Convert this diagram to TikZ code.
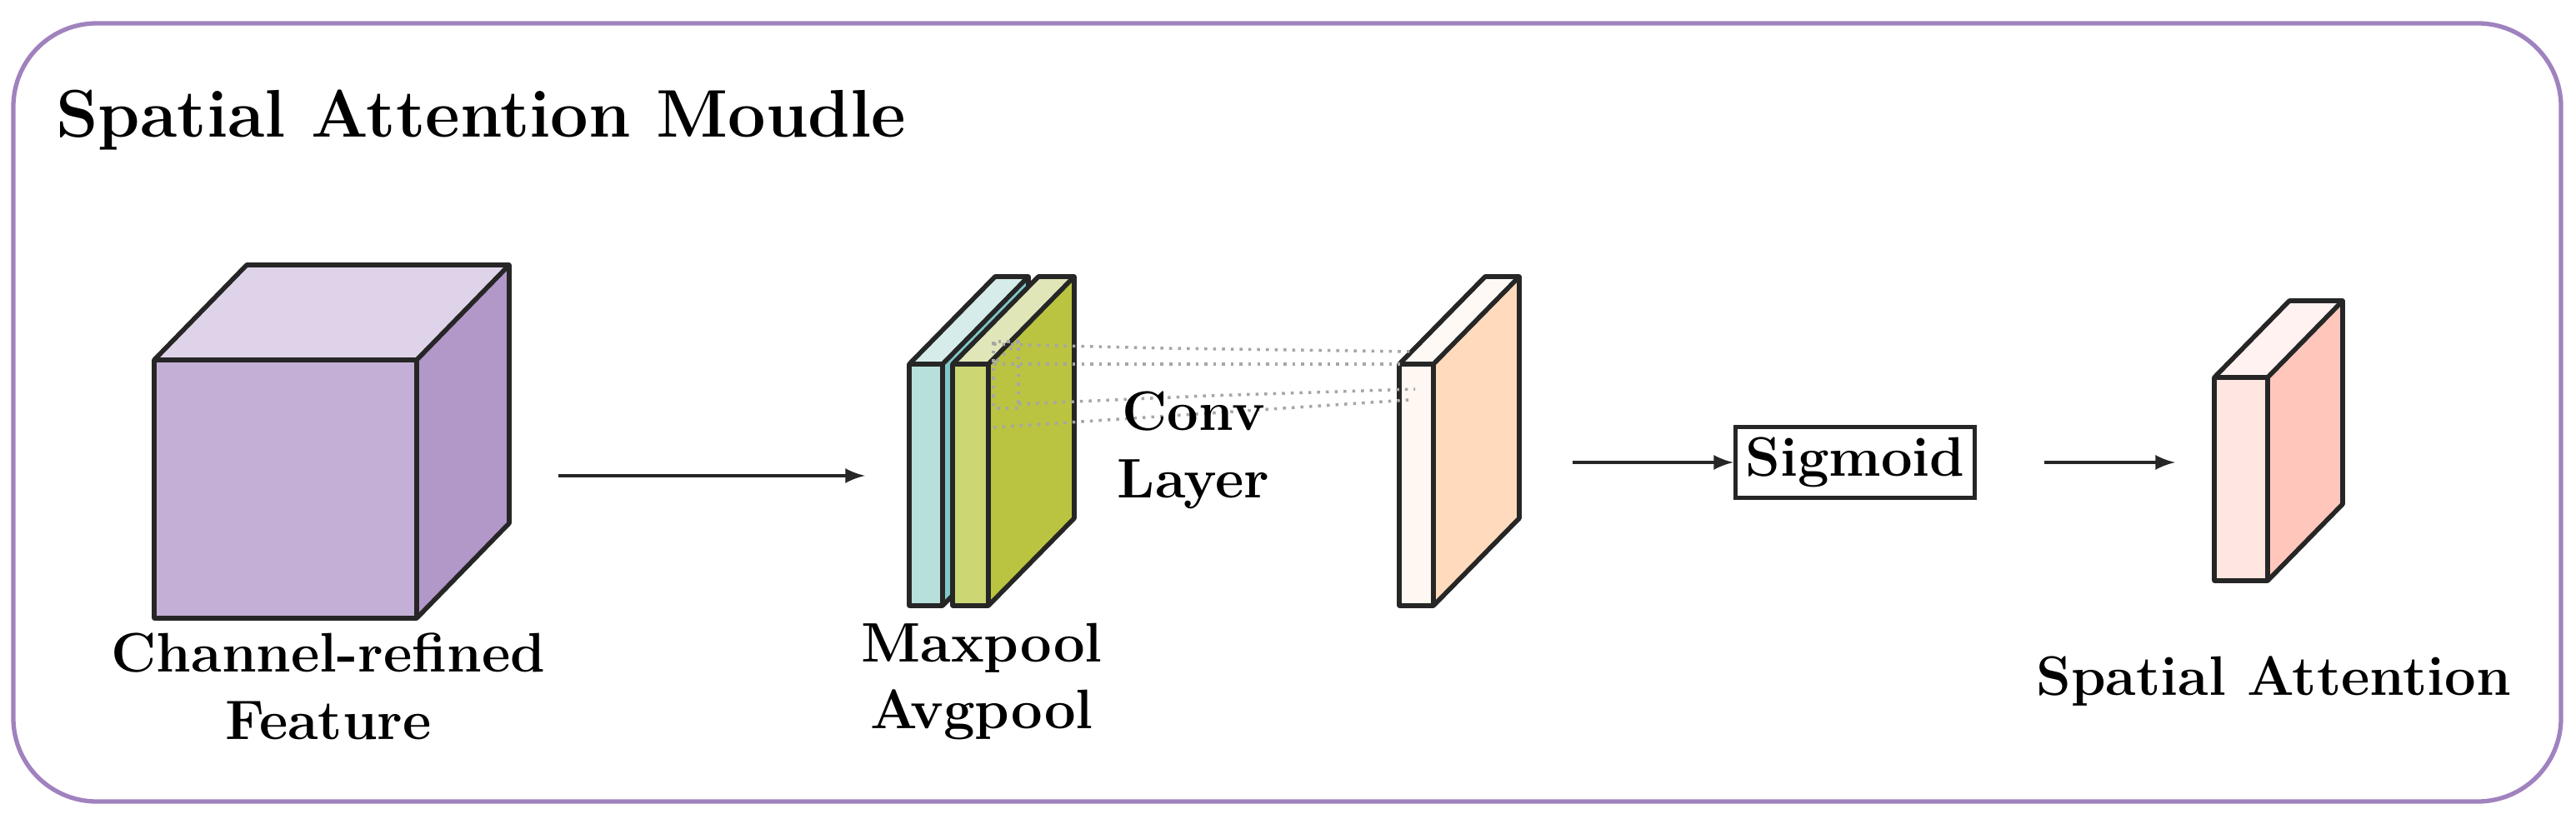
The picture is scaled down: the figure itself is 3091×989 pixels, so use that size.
\documentclass[tikz,border=0pt]{standalone}
\usetikzlibrary{calc}
\definecolor{bordc}{RGB}{160,130,190}
\definecolor{cubF}{RGB}{196,176,214}\definecolor{cubS}{RGB}{178,151,201}\definecolor{cubT}{RGB}{223,211,233}
\definecolor{cyF}{RGB}{183,224,220}\definecolor{cyS}{RGB}{130,200,200}\definecolor{cyT}{RGB}{213,236,234}
\definecolor{grF}{RGB}{204,214,114}\definecolor{grS}{RGB}{186,196,64}\definecolor{grT}{RGB}{224,230,184}
\definecolor{cvF}{RGB}{255,247,242}\definecolor{cvS}{RGB}{255,218,188}\definecolor{cvT}{RGB}{255,249,246}
\definecolor{otF}{RGB}{255,230,225}\definecolor{otS}{RGB}{255,199,188}\definecolor{otT}{RGB}{255,242,240}
\newcommand\myslab[9]{% x1 x2 ytop ybot dx dy front side top
  \fill[fill=#7] (#1,#3) rectangle (#2,#4);
  \fill[fill=#9] (#1,#3) -- ++(#5,#6) -- ($(#2,#3)+(#5,#6)$) -- (#2,#3) -- cycle;
  \fill[fill=#8] (#2,#3) -- ++(#5,#6) -- ($(#2,#4)+(#5,#6)$) -- (#2,#4) -- cycle;
  \draw[face] (#1,#4) -- (#1,#3) -- ++(#5,#6) -- ($(#2,#3)+(#5,#6)$) -- ($(#2,#4)+(#5,#6)$) -- (#2,#4) -- cycle
    (#1,#3) -- (#2,#3) -- (#2,#4) (#2,#3) -- ++(#5,#6);}
\begin{document}
\begin{tikzpicture}[x=0.01cm,y=-0.01cm,
  face/.style={draw=black!85,line width=1.6pt,line join=round},
  lbl/.style={font=\fontsize{19}{23}\selectfont\bfseries,align=center},
  arr/.style={-latex,line width=1.3pt,black!85},
  dl/.style={gray!70,dotted,line width=1pt}]
\useasboundingbox (0,0) rectangle (3091,989);
\draw[draw=bordc,line width=1.5pt,rounded corners=1cm] (16,28) rectangle (3073,962);
\node[anchor=west,font=\fontsize{23}{27}\selectfont\bfseries] (title) at (55,144) {Spatial Attention Moudle};
% cube
\myslab{185}{500}{432}{742}{111}{-114}{cubF}{cubS}{cubT}
% pool slabs
\myslab{1091}{1131}{437}{727}{103}{-105}{cyF}{cyS}{cyT}
\myslab{1143}{1186}{437}{727}{103}{-105}{grF}{grS}{grT}
% conv slab
\myslab{1679}{1720}{437}{727}{103}{-105}{cvF}{cvS}{cvT}
% output slab
\myslab{2657}{2721}{453}{697}{90}{-92}{otF}{otS}{otT}
% receptive field dotted lines
\draw[dl] (1192,410) rectangle (1222,490);
\draw[dl] (1192,413) -- (1400,418) -- (1692,422);
\draw[dl] (1192,437) -- (1680,437);
\draw[dl] (1222,485) -- (1450,475) -- (1698,467);
\draw[dl] (1192,513) -- (1450,496) -- (1690,480);
\draw[dl] (1222,410) -- (1192,437);
% labels
\node[lbl] (l1) at (394,824) {Channel-refined\\Feature};
\node[lbl] (l2) at (1178,818) {Maxpool\\Avgpool};
\node[lbl] (l3) at (1432,540) {Conv\\Layer};
\node[lbl,draw=black!85,line width=1.5pt,minimum width=2.68cm,minimum height=0.85cm] (sig) at (2226,555) {Sigmoid};
\node[lbl] (l5) at (2728,818) {Spatial Attention};
\coordinate (a1s) at (670,571); \coordinate (a1e) at (1038,571);
\coordinate (a2s) at (1887,555); \coordinate (a3s) at (2453,555); \coordinate (out) at (2610,555);
\draw[arr] (a1s) -- (a1e);
\draw[arr] (a2s) -- (sig.west);
\draw[arr] (a3s) -- (out);
\end{tikzpicture}
\end{document}
